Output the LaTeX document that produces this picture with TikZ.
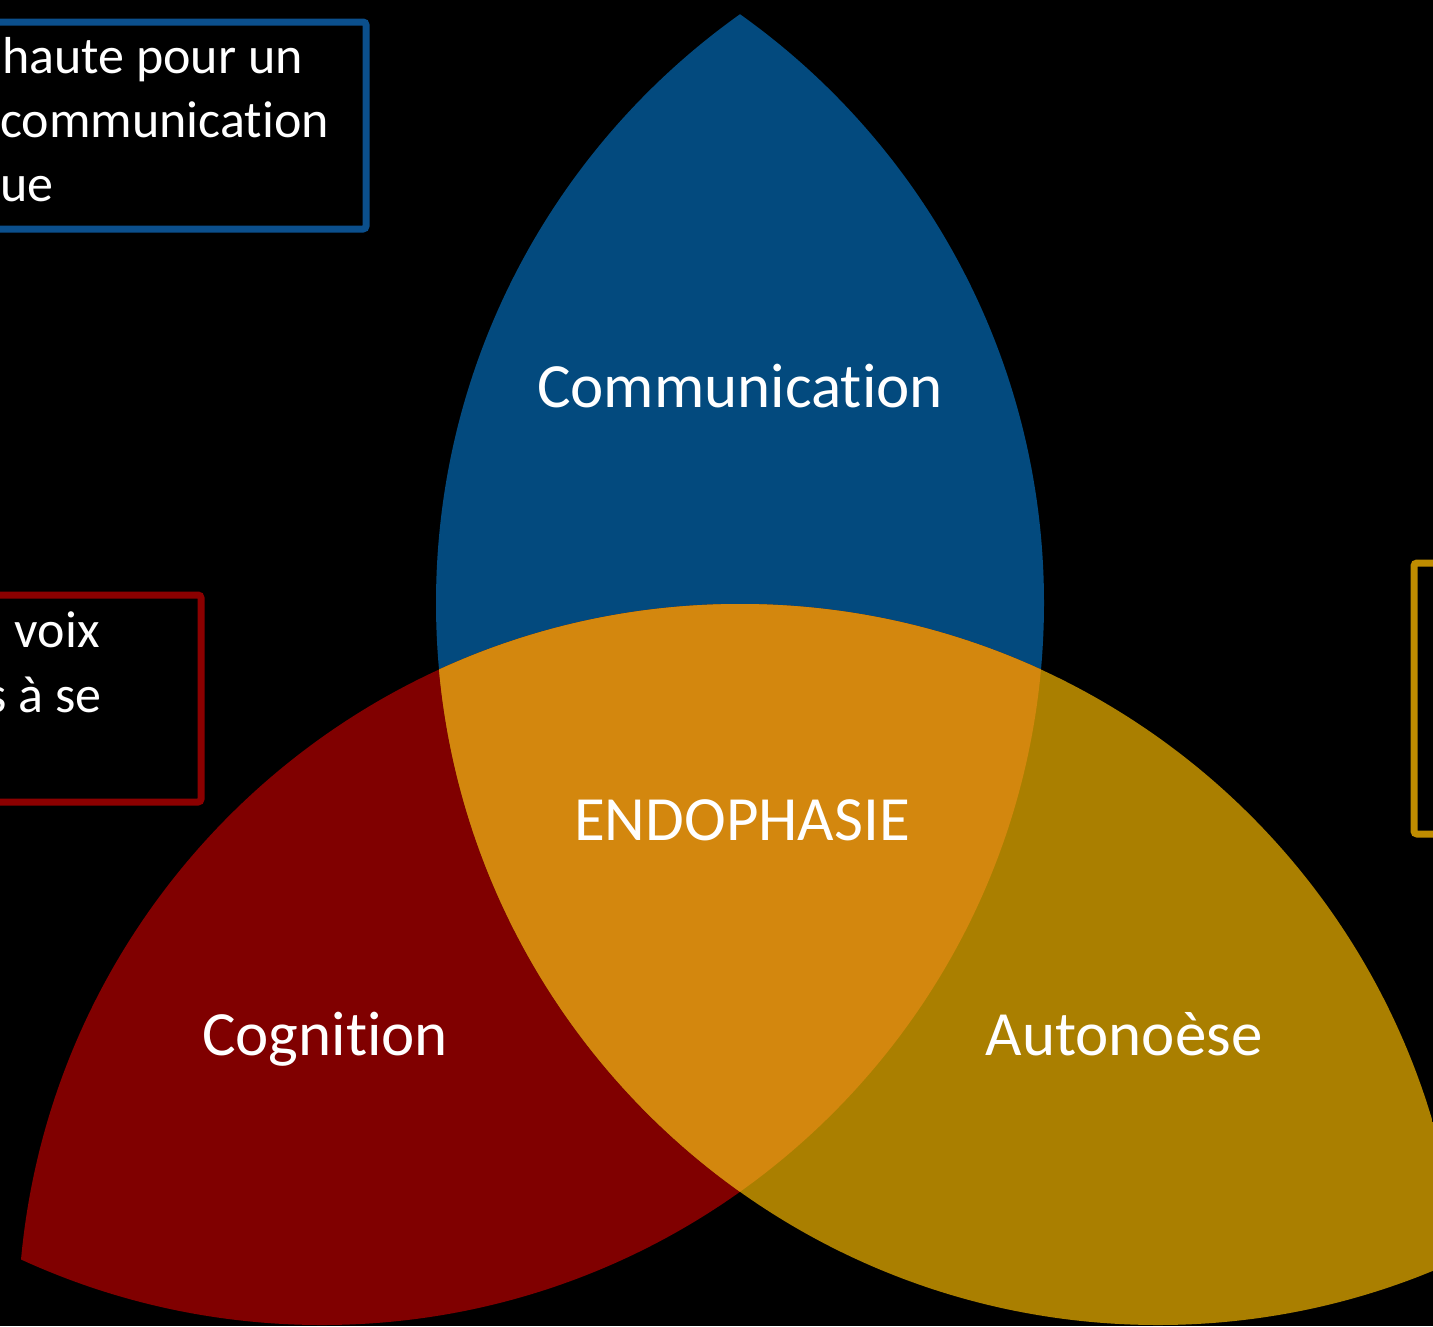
\documentclass[tikz,border=0pt]{standalone}
\usepackage{fontspec}
\setmainfont{Carlito}[Ligatures={NoCommon}]
\definecolor{petalblue}{HTML}{034A7E}
\definecolor{petalred}{HTML}{800000}
\definecolor{petalgold}{HTML}{AA7F00}
\definecolor{petalcore}{HTML}{D3870E}
\definecolor{boxblue}{HTML}{0B4F8C}
\definecolor{boxred}{HTML}{8B0000}
\definecolor{boxgold}{HTML}{BF8C00}
\tikzset{
  bigtext/.style={text=white, font=\fontsize{63}{76}\selectfont, inner sep=0pt, anchor=base},
  boxtext/.style={text=white, font=\fontsize{52}{64}\selectfont, inner sep=0pt},
  framebox/.style={line width=7pt, rounded corners=3pt, fill=black},
}
\begin{document}
\begin{tikzpicture}[x=1pt,y=-1pt]
\fill[black] (0,0) rectangle (1433,1326);
\useasboundingbox (0,0) rectangle (1433,1326);
\clip (0,0) rectangle (1433,1326);
\coordinate (A) at (1158,603);
\coordinate (B) at (322,603);
\coordinate (C) at (740,1326);
\def\rad{722}
% blue petal = A cap B
\begin{scope}
  \clip (A) circle (\rad);
  \fill[petalblue] (B) circle (\rad);
\end{scope}
% red petal = B cap C
\begin{scope}
  \clip (B) circle (\rad);
  \fill[petalred] (C) circle (\rad);
\end{scope}
% gold petal = C cap A
\begin{scope}
  \clip (C) circle (\rad);
  \fill[petalgold] (A) circle (\rad);
\end{scope}
% core = A cap B cap C
\begin{scope}
  \clip (A) circle (\rad);
  \clip (B) circle (\rad);
  \fill[petalcore] (C) circle (\rad);
\end{scope}
\node[bigtext] (comm) at (740,407) {Communication};
\node[bigtext] (endo) at (742,840) {ENDOPHASIE};
\node[bigtext] (cog) at (325,1055) {Cognition};
\node[bigtext] (auto) at (1124,1055) {Autonoèse};
% boxes (partly outside the picture)
\draw[framebox, draw=boxblue] (-40,22) rectangle (366,229);
\node[boxtext, anchor=base west] (b1) at (2,73) {haute pour un};
\node[boxtext, anchor=base west] (b2) at (0,137) {communication};
\node[boxtext, anchor=base west] (b3) at (0,201) {ue};
\draw[framebox, draw=boxred] (-40,595) rectangle (201,802);
\node[boxtext, anchor=base east] (r1) at (100,647) {voix};
\node[boxtext, anchor=base east] (r2) at (102,712) {s à se};
\draw[framebox, draw=boxgold] (1414,563) rectangle (1480,834);
\end{tikzpicture}
\end{document}
